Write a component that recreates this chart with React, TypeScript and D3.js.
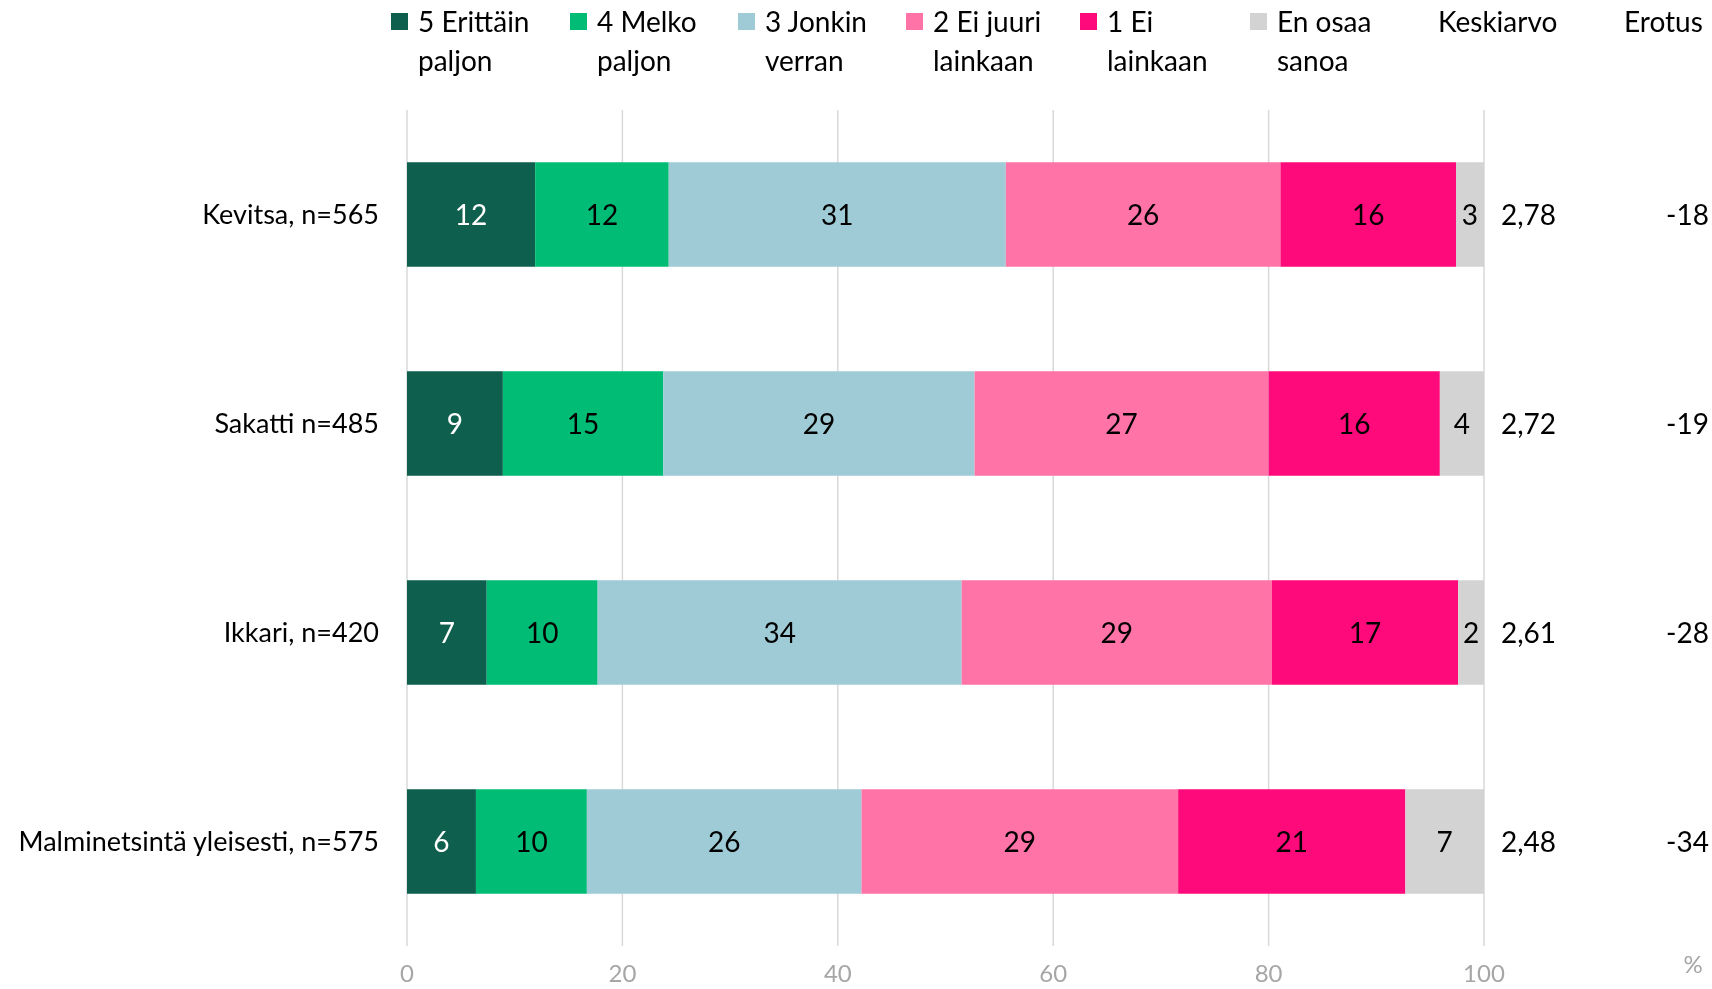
import * as d3 from 'd3';

const W = 1712;
const H = 989;

const categories = ['Kevitsa, n=565', 'Sakatti n=485', 'Ikkari, n=420', 'Malminetsintä yleisesti, n=575'];
const seriesNames = ['5 Erittäin|paljon', '4 Melko|paljon', '3 Jonkin|verran', '2 Ei juuri|lainkaan', '1 Ei|lainkaan', 'En osaa|sanoa'];
const colors = ['#0e5f4d', '#00bc74', '#9fcbd6', '#ff73a7', '#ff0a7b', '#d3d3d3'];
const labelColors = ['#ffffff', '#000000', '#000000', '#000000', '#000000', '#000000'];

// shares per category, % (five..one, en osaa)
const s5 = [11.9, 8.9, 7.4, 6.4];
const s4 = [12.4, 14.9, 10.3, 10.3];
const s3 = [31.3, 28.9, 33.8, 25.5];
const s2 = [25.5, 27.3, 28.8, 29.4];
const s1 = [16.3, 15.9, 17.3, 21.1];
const sEos = [2.6, 4.1, 2.4, 7.3];
const labels = [
  ['12', '12', '31', '26', '16', '3'],
  ['9', '15', '29', '27', '16', '4'],
  ['7', '10', '34', '29', '17', '2'],
  ['6', '10', '26', '29', '21', '7'],
];
const keskiarvo = ['2,78', '2,72', '2,61', '2,48'];
const erotus = ['-18', '-19', '-28', '-34'];
const xTicks = [0, 20, 40, 60, 80, 100];

const FONT = 'Lato, "Open Sans", sans-serif';

export default function App() {
  const x = d3.scaleLinear().domain([0, 100]).range([407, 1484]);
  const y = d3.scaleBand<string>().domain(categories).range([110, 946]).paddingInner(0.5).paddingOuter(0.25);

  const table = categories.map((c, i) => ({
    cat: c,
    vals: [s5[i], s4[i], s3[i], s2[i], s1[i], sEos[i]],
  }));
  const stack = d3.stack<any>().keys(d3.range(6).map(String))
    .value((d, k) => d.vals[+k]);
  const layers = stack(table);

  const legendSq = [391, 570, 738, 906, 1080, 1250];

  return (
    <svg width={W} height={H} style={{ position: 'fixed', left: 0, top: 0, fontFamily: FONT }}>
      {/* gridlines */}
      {xTicks.map((t) => (
        <line key={t} x1={x(t)} x2={x(t)} y1={110} y2={946} stroke="#d9d9d9" strokeWidth={1.5} />
      ))}
      {/* bars */}
      {layers.map((layer, si) => (
        <g key={si}>
          {layer.map((d, ci) => {
            const x0 = x(d[0]);
            const x1 = x(Math.min(d[1], 100));
            const yy = y(categories[ci])!;
            return (
              <g key={ci}>
                <rect x={x0} y={yy} width={x1 - x0} height={y.bandwidth()} fill={colors[si]} />
                <text x={(x0 + x1) / 2} y={yy + y.bandwidth() / 2} dy="0.36em" textAnchor="middle"
                  fontSize={28} fill={labelColors[si]}>{labels[ci][si]}</text>
              </g>
            );
          })}
        </g>
      ))}
      {/* category labels */}
      {categories.map((c) => (
        <text key={c} x={379} y={y(c)! + y.bandwidth() / 2} dy="0.36em" textAnchor="end" fontSize={27} fill="#000">{c}</text>
      ))}
      {/* keskiarvo + erotus */}
      {categories.map((c, i) => (
        <g key={'k' + c}>
          <text x={1501} y={y(c)! + y.bandwidth() / 2} dy="0.36em" fontSize={28} fill="#000">{keskiarvo[i]}</text>
          <text x={1709} y={y(c)! + y.bandwidth() / 2} dy="0.36em" textAnchor="end" fontSize={28} fill="#000">{erotus[i]}</text>
        </g>
      ))}
      {/* x tick labels */}
      {xTicks.map((t) => (
        <text key={'t' + t} x={x(t)} y={973} dy="0.36em" textAnchor="middle" fontSize={24} fill="#a6a6a6">{t}</text>
      ))}
      <text x={1693} y={964} dy="0.36em" textAnchor="middle" fontSize={24} fill="#a6a6a6">%</text>
      {/* legend */}
      {seriesNames.map((n, i) => {
        const [l1, l2] = n.split('|');
        return (
          <g key={n}>
            <rect x={legendSq[i]} y={13} width={17} height={17} fill={colors[i]} />
            <text x={legendSq[i] + 27} y={22} dy="0.36em" fontSize={28} fill="#000">{l1}</text>
            <text x={legendSq[i] + 27} y={61} dy="0.36em" fontSize={28} fill="#000">{l2}</text>
          </g>
        );
      })}
      <text x={1438} y={22} dy="0.36em" fontSize={28} fill="#000">Keskiarvo</text>
      <text x={1624} y={22} dy="0.36em" fontSize={28} fill="#000">Erotus</text>
    </svg>
  );
}
